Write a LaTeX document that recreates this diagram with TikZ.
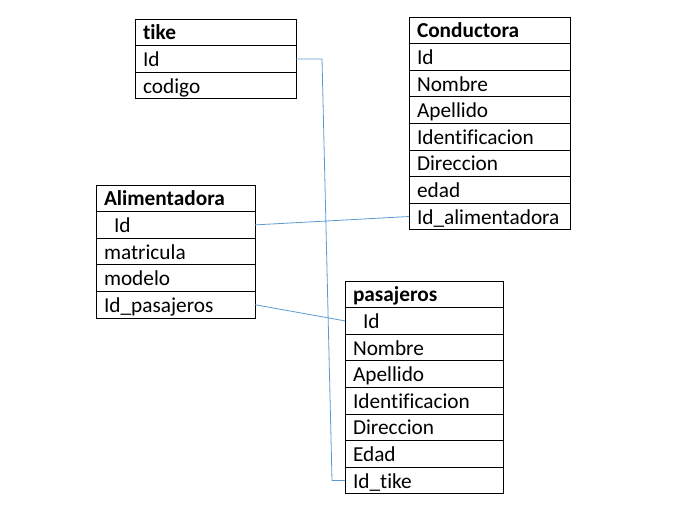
\documentclass[tikz,border=0pt]{standalone}
\usepackage{fontspec}
\setmainfont{Carlito}[Ligatures=NoCommon]
\usetikzlibrary{positioning}
\definecolor{linkblue}{RGB}{91,155,213}

\begin{document}
\begin{tikzpicture}[
  x=1pt, y=-1pt,
  field/.style={draw, line width=0.8pt, outer sep=0pt, inner xsep=8pt, inner ysep=0pt, minimum height=26.6pt, text width=#1, align=left, text height=19.5pt, text depth=4.5pt, font=\fontsize{21.3}{24}\selectfont},
  head/.style={field=#1, font=\fontsize{21.3}{24}\selectfont\bfseries},
  link/.style={draw=linkblue, line width=0.8pt}
]
\useasboundingbox (0,0) rectangle (676,522);

% tike
\node[head=145pt, anchor=north west] (tike) at (135,19) {tike};
\node[field=145pt, below=0pt of tike] (tId) {Id};
\node[field=145pt, below=0pt of tId] (tCodigo) {codigo};

% Conductora
\node[head=145pt, anchor=north west] (cond) at (409,17) {Conductora};
\node[field=145pt, below=0pt of cond] (cId) {Id};
\node[field=145pt, below=0pt of cId] (cNombre) {Nombre};
\node[field=145pt, below=0pt of cNombre] (cApellido) {Apellido};
\node[field=145pt, below=0pt of cApellido] (cIdent) {Identificacion};
\node[field=145pt, below=0pt of cIdent] (cDir) {Direccion};
\node[field=145pt, below=0pt of cDir] (cEdad) {edad};
\node[field=145pt, below=0pt of cEdad] (cIdAlim) {Id\_alimentadora};

% Alimentadora
\node[head=143pt, anchor=north west] (alim) at (96,185) {Alimentadora};
\node[field=143pt, below=0pt of alim] (aId) {\hspace*{10pt}Id};
\node[field=143pt, below=0pt of aId] (aMatricula) {matricula};
\node[field=143pt, below=0pt of aMatricula] (aModelo) {modelo};
\node[field=143pt, below=0pt of aModelo] (aIdPas) {Id\_pasajeros};

% pasajeros
\node[head=142pt, anchor=north west] (pas) at (345,281) {pasajeros};
\node[field=142pt, below=0pt of pas] (pId) {\hspace*{10pt}Id};
\node[field=142pt, below=0pt of pId] (pNombre) {Nombre};
\node[field=142pt, below=0pt of pNombre] (pApellido) {Apellido};
\node[field=142pt, below=0pt of pApellido] (pIdent) {Identificacion};
\node[field=142pt, below=0pt of pIdent] (pDir) {Direccion};
\node[field=142pt, below=0pt of pDir] (pEdad) {Edad};
\node[field=142pt, below=0pt of pEdad] (pIdTike) {Id\_tike};

% relaciones
\coordinate (tikeBendA) at ([xshift=26pt]tId.east);
\coordinate (tikeBendB) at ([xshift=-13pt]pIdTike.west);
\draw[link] (tId.east) -- (tikeBendA) -- (tikeBendB) -- (pIdTike.west);
\draw[link] (aId.east) -- (cIdAlim.west);
\draw[link] (aIdPas.east) -- (pId.west);

\end{tikzpicture}
\end{document}
